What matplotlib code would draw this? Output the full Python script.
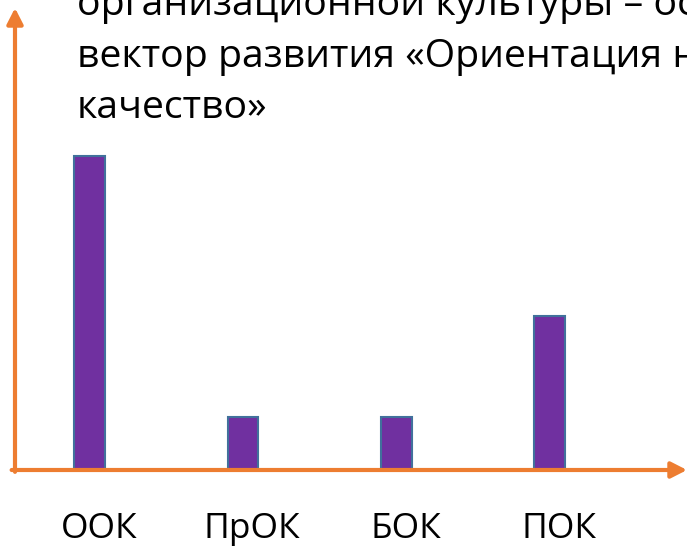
import matplotlib
matplotlib.use("Agg")
import matplotlib.pyplot as plt
import numpy as np

# ---- data ----
categories = ["ООК", "ПрОК", "БОК", "ПОК"]
values = [59, 10, 10, 29]
title_lines = [
    "организационной культуры – основной",
    "вектор развития «Ориентация на",
    "качество»",
]

# ---- style ----
W, H, DPI = 687, 548, 100
ORANGE = "#ED7D31"
PURPLE = "#7030A0"
EDGE = "#41719C"
FONT = ["Open Sans", "DejaVu Sans"]
plt.rcParams["font.family"] = FONT

fig = plt.figure(figsize=(W / DPI, H / DPI), dpi=DPI)
fig.patch.set_facecolor("white")

# axes box in pixels (from top-left)
ax_left, ax_right = 15, 687
ax_top, ax_bottom = 8, 470
ax = fig.add_axes([ax_left / W, (H - ax_bottom) / H,
                   (ax_right - ax_left) / W, (ax_bottom - ax_top) / H])
ax.set_facecolor("none")

idx = np.arange(len(categories))
ax.bar(idx, values, width=0.2, color=PURPLE, edgecolor=EDGE, linewidth=1.5, zorder=2)

ax.set_xlim(-0.488, 3.896)
ax.set_ylim(0, 86.9)
for s in ax.spines.values():
    s.set_visible(False)
ax.set_xticks([])
ax.set_yticks([])

# axis arrows
arrow_kw = dict(arrowstyle="-|>,head_length=0.47,head_width=0.24", color=ORANGE,
                lw=3, shrinkA=0, shrinkB=0, mutation_scale=20)
ax.annotate("", xy=(1.0, 0.0), xytext=(-0.005, 0.0), xycoords="axes fraction",
            arrowprops=arrow_kw, annotation_clip=False, zorder=3)
ax.annotate("", xy=(0.0, 1.0), xytext=(0.0, -0.004), xycoords="axes fraction",
            arrowprops=arrow_kw, annotation_clip=False, zorder=3)

# category labels
lab_y = -(538 - ax_bottom) / (ax_bottom - ax_top)
for i, c in zip(idx, categories):
    ax.text(i + 0.06, lab_y, c, transform=ax.get_xaxis_transform(),
            ha="center", va="baseline", fontsize=25.5, color="black")

# title lines (clipped at top/right like the reference)
baselines = [15, 66.5, 118]
for line, b in zip(title_lines, baselines):
    fig.text(77 / W, 1 - b / H, line, ha="left", va="baseline",
             fontsize=28.3, color="black")

fig.savefig("out.png", dpi=DPI, facecolor="white")
